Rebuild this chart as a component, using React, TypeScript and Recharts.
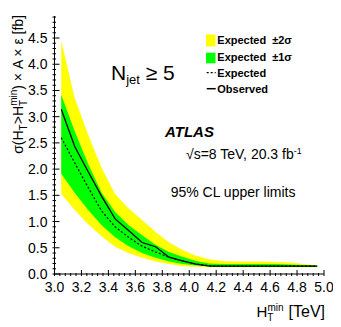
import React from 'react';
import { ComposedChart, Area, Line, XAxis, YAxis, Customized } from 'recharts';

// H_T^min thresholds [TeV]
const htMin = [3.05, 3.15, 3.25, 3.35, 3.45, 3.55, 3.65, 3.75, 3.85, 3.95, 4.05, 4.15, 4.25, 4.35, 4.45, 4.55, 4.65, 4.75, 4.85, 4.95];
// Observed limit [fb]
const observed = [3.14, 2.43, 1.95, 1.48, 1.05, 0.83, 0.6, 0.52, 0.32, 0.25, 0.19, 0.15, 0.15, 0.15, 0.15, 0.15, 0.15, 0.15, 0.15, 0.15];
// Expected limit [fb]
const expected = [2.6, 2.12, 1.65, 1.2, 0.9, 0.7, 0.53, 0.42, 0.32, 0.25, 0.19, 0.16, 0.15, 0.15, 0.15, 0.15, 0.15, 0.15, 0.15, 0.15];
// Expected +-1 sigma band
const band1Hi = [3.42, 2.72, 2.1, 1.55, 1.18, 0.93, 0.74, 0.56, 0.42, 0.33, 0.25, 0.2, 0.19, 0.19, 0.19, 0.19, 0.19, 0.18, 0.17, 0.16];
const band1Lo = [1.91, 1.55, 1.22, 0.93, 0.7, 0.53, 0.4, 0.31, 0.24, 0.19, 0.16, 0.15, 0.14, 0.14, 0.14, 0.14, 0.14, 0.14, 0.14, 0.14];
// Expected +-2 sigma band
const band2Hi = [4.45, 3.35, 2.65, 2.02, 1.52, 1.25, 1.03, 0.8, 0.6, 0.46, 0.35, 0.28, 0.25, 0.24, 0.24, 0.24, 0.23, 0.22, 0.19, 0.16];
const band2Lo = [1.53, 1.22, 0.95, 0.72, 0.52, 0.4, 0.31, 0.24, 0.19, 0.15, 0.14, 0.13, 0.13, 0.13, 0.13, 0.13, 0.13, 0.13, 0.13, 0.13];

const xMajorLabels = ['3.0', '3.2', '3.4', '3.6', '3.8', '4.0', '4.2', '4.4', '4.6', '4.8', '5.0'];
const yMajorLabels = ['0.0', '0.5', '1.0', '1.5', '2.0', '2.5', '3.0', '3.5', '4.0', '4.5'];

const data = htMin.map((x, i) => ({
  x,
  y2: [band2Lo[i], band2Hi[i]],
  y1: [band1Lo[i], band1Hi[i]],
  exp: expected[i],
  obs: observed[i],
}));

const X_DOMAIN: [number, number] = [3.0, 5.0];
const Y_DOMAIN: [number, number] = [0, 4.92];

const xMajors = xMajorLabels.map(Number);
const yMajors = yMajorLabels.map(Number);

const xTicks: number[] = [];
xMajors.forEach((m, i) => {
  xTicks.push(m);
  if (i < xMajors.length - 1) for (let k = 1; k < 5; k++) xTicks.push(+(m + k * 0.04).toFixed(3));
});
const yTicks: number[] = [];
yMajors.forEach((m) => {
  yTicks.push(m);
  for (let k = 1; k < 5; k++) {
    const v = +(m + k * 0.1).toFixed(3);
    if (v <= Y_DOMAIN[1]) yTicks.push(v);
  }
});

const FONT = '"Liberation Sans", Arial, Helvetica, sans-serif';

const majorIndex = (v: number, majors: number[]) => majors.findIndex((m) => Math.abs(m - v) < 1e-6);

const XBottomTick = (p: any) => {
  const { x, y, payload } = p;
  const idx = majorIndex(payload.value, xMajors);
  const major = idx >= 0;
  return (
    <g>
      <line x1={x} x2={x} y1={y} y2={y - (major ? 6 : 3)} stroke="#000" strokeWidth={1} />
      {major && (
        <text x={x} y={y + 15.5} textAnchor="middle" fontSize={14} fontFamily={FONT} fill="#000">
          {xMajorLabels[idx]}
        </text>
      )}
    </g>
  );
};

const XTopTick = (p: any) => {
  const { x, y, payload } = p;
  const major = majorIndex(payload.value, xMajors) >= 0;
  return <line x1={x} x2={x} y1={y} y2={y + (major ? 7 : 3.5)} stroke="#000" strokeWidth={1} />;
};

const YLeftTick = (p: any) => {
  const { x, y, payload } = p;
  const idx = majorIndex(payload.value, yMajors);
  const major = idx >= 0;
  return (
    <g>
      <line x1={x} x2={x + (major ? 7 : 3.5)} y1={y} y2={y} stroke="#000" strokeWidth={1} />
      {major && (
        <text x={x - 5} y={y + 5} textAnchor="end" fontSize={14} fontFamily={FONT} fill="#000">
          {yMajorLabels[idx]}
        </text>
      )}
    </g>
  );
};

const YRightTick = (p: any) => {
  const { x, y, payload } = p;
  const major = majorIndex(payload.value, yMajors) >= 0;
  return <line x1={x} x2={x - (major ? 7 : 3.5)} y1={y} y2={y} stroke="#000" strokeWidth={1} />;
};

const Annotations = () => (
  <g fontFamily={FONT} fill="#000">
    {/* Y title */}
    <text transform="translate(15,7) rotate(-90)" x={0} y={0} textAnchor="end" fontSize={14}>
      σ(H<tspan dy={4} fontSize={10}>T</tspan>
      <tspan dy={-4} fontSize={14}>&gt;H</tspan>
      <tspan dy={4} fontSize={10}>T</tspan>
      <tspan dx={-6} dy={-10} fontSize={10}>min</tspan>
      <tspan dy={6} fontSize={14}>) × A × ε [fb]</tspan>
    </text>
    {/* X title */}
    <text x={317} y={308.7} textAnchor="end" fontSize={15}>
      H<tspan dy={4} fontSize={10}>T</tspan>
      <tspan dx={-6} dy={-10} fontSize={10}>min</tspan>
      <tspan dx={5} dy={6} fontSize={16}>[TeV]</tspan>
    </text>
    {/* N_jet >= 5 */}
    <text x={103} y={72} fontSize={21}>
      N<tspan dy={4} fontSize={13}>jet</tspan>
      <tspan dy={-4} fontSize={21}> ≥ 5</tspan>
    </text>
    {/* Legend */}
    <rect x={198} y={26.5} width={9.5} height={12} fill="#ffff00" />
    <text x={209.3} y={36.3} fontSize={11} fontWeight="bold">Expected<tspan dx={6}>±2σ</tspan></text>
    <rect x={198} y={44.7} width={9.5} height={10.6} fill="#00ff00" />
    <text x={209.3} y={53} fontSize={11} fontWeight="bold">Expected<tspan dx={6}>±1σ</tspan></text>
    <line x1={198.7} x2={207.7} y1={64.7} y2={64.7} stroke="#000" strokeWidth={1.2} strokeDasharray="2 2" />
    <text x={209.3} y={68.7} fontSize={11} fontWeight="bold">Expected</text>
    <line x1={198.7} x2={207.7} y1={80.7} y2={80.7} stroke="#000" strokeWidth={1.5} />
    <text x={209.3} y={85.3} fontSize={11} fontWeight="bold">Observed</text>
    {/* ATLAS */}
    <text x={157} y={128.7} fontSize={15} fontWeight="bold" fontStyle="italic">ATLAS</text>
    <text x={178} y={151.3} fontSize={14}>
      √s=8 TeV, 20.3 fb<tspan dy={-5} fontSize={9}>-1</tspan>
    </text>
    <text x={162.7} y={188.7} fontSize={14}>95% CL upper limits</text>
  </g>
);

export default function App() {
  return (
    <ComposedChart
      width={333}
      height={319}
      data={data}
      margin={{ top: 8, right: 17, left: 0, bottom: 0 }}
    >
      <XAxis
        dataKey="x"
        type="number"
        domain={X_DOMAIN}
        allowDataOverflow
        ticks={xTicks}
        interval={0}
        tickSize={0}
        tickLine={false}
        axisLine={{ stroke: '#000', strokeWidth: 1 }}
        tick={(p: any) => <XBottomTick {...p} />}
        height={53}
      />
      <XAxis
        xAxisId="top"
        orientation="top"
        type="number"
        domain={X_DOMAIN}
        allowDataOverflow
        ticks={xTicks}
        interval={0}
        tickSize={0}
        tickLine={false}
        axisLine={{ stroke: '#000', strokeWidth: 1 }}
        tick={(p: any) => <XTopTick {...p} />}
        height={0}
      />
      <YAxis
        type="number"
        domain={Y_DOMAIN}
        allowDataOverflow
        ticks={yTicks}
        interval={0}
        tickSize={0}
        tickLine={false}
        axisLine={{ stroke: '#000', strokeWidth: 1 }}
        tick={(p: any) => <YLeftTick {...p} />}
        width={46.5}
      />
      <YAxis
        yAxisId="right"
        orientation="right"
        type="number"
        domain={Y_DOMAIN}
        allowDataOverflow
        ticks={yTicks}
        interval={0}
        tickSize={0}
        tickLine={false}
        axisLine={{ stroke: '#000', strokeWidth: 1 }}
        tick={(p: any) => <YRightTick {...p} />}
        width={0}
      />
      <Area type="linear" dataKey="y2" fill="#ffff00" fillOpacity={1} stroke="none" isAnimationActive={false} activeDot={false} />
      <Area type="linear" dataKey="y1" fill="#00ff00" fillOpacity={1} stroke="none" isAnimationActive={false} activeDot={false} />
      <Line type="linear" dataKey="exp" stroke="#000" strokeWidth={1.2} strokeDasharray="2 2" dot={false} activeDot={false} isAnimationActive={false} />
      <Line type="linear" dataKey="obs" stroke="#000" strokeWidth={1.3} dot={false} activeDot={false} isAnimationActive={false} />
      <Customized component={Annotations} />
    </ComposedChart>
  );
}
